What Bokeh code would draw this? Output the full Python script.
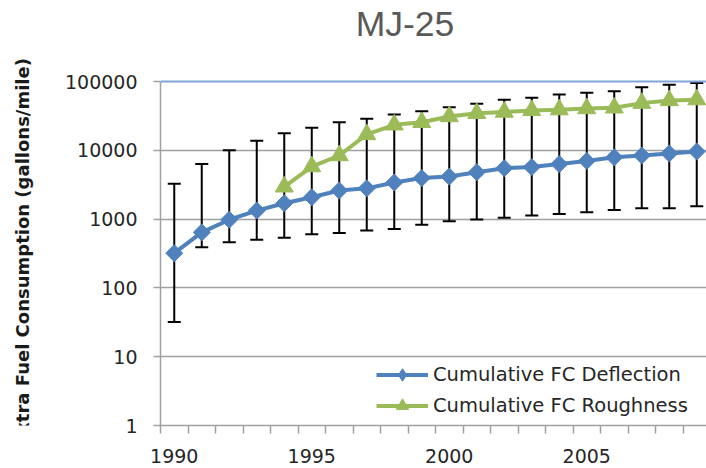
import math
from bokeh.plotting import figure
from bokeh.layouts import row
from bokeh.models import (Range1d, FixedTicker, Span, CustomJSTickFormatter,
                          Legend, LegendItem, Label)
from bokeh.embed import file_html
from bokeh.resources import INLINE

# ---- data ----
years = list(range(1990, 2010))
deflection = [320, 640, 980, 1330, 1700, 2080, 2600, 2800, 3400, 3950,
              4150, 4800, 5500, 5700, 6300, 7000, 7900, 8400, 9000, 9600]
err_lo = [32, 390, 460, 500, 535, 600, 630, 680, 720, 830,
          930, 990, 1050, 1130, 1190, 1260, 1360, 1440, 1440, 1540]
err_hi = [3260, 6340, 10000, 13800, 17700, 21200, 25600, 28700, 33200, 37000,
          42300, 47400, 54200, 58000, 64700, 68400, 72300, 82600, 89500, 95500]
rough_years = list(range(1994, 2010))
roughness = [2950, 5800, 8400, 17000, 23500, 25500, 31000, 34500,
             36000, 38000, 39000, 40500, 41500, 48500, 53000, 54500]
y_ticks = [1, 10, 100, 1000, 10000, 100000]
x_label_ticks = [1990, 1995, 2000, 2005]
title_text = "MJ-25"
y_title = "Extra Fuel Consumption (gallons/mile)"
series_names = ["Cumulative FC Deflection", "Cumulative FC Roughness"]

BLUE = "#4f81bd"
GREEN = "#9bbb59"
GRAY = "#a0a0a0"
TXT = "#262626"

LEFT_W = 46  # strip holding the rotated y-axis title

# ---- y-axis title strip ----
side = figure(width=LEFT_W, height=468, output_backend="svg",
              toolbar_location=None, x_range=Range1d(0, LEFT_W),
              y_range=Range1d(0, 468), x_axis_location=None,
              y_axis_location=None, min_border=0)
side.outline_line_color = None
side.grid.visible = False
side.add_layout(Label(x=22, y=191, text=y_title, angle=math.pi / 2,
                      text_align="center", text_baseline="middle",
                      text_font="DejaVu Sans", text_font_size="18px",
                      text_font_style="bold", text_color="#1a1a1a"))

# ---- main chart: frame spans full height above the x axis ----
DECADE_PX = 344 / 5
y_top = 10 ** (5 + 81 / DECADE_PX)

p = figure(width=706 - LEFT_W, height=468, output_backend="svg",
           toolbar_location=None, y_axis_type="log",
           x_range=Range1d(1989.5, 1989.5 + 546 / 27.5),
           y_range=Range1d(1, y_top),
           min_border_left=160 - LEFT_W, min_border_right=0,
           min_border_top=0, min_border_bottom=43)
p.outline_line_color = None
p.background_fill_color = "white"
p.border_fill_color = "white"

xa = p.xaxis[0]
xa.ticker = FixedTicker(ticks=x_label_ticks,
                        minor_ticks=[1989.5 + k for k in range(21)])
xa.major_tick_out = 0
xa.major_tick_in = 0
xa.minor_tick_out = 8
xa.minor_tick_in = 0
xa.minor_tick_line_color = GRAY
xa.minor_tick_line_width = 1.5
xa.axis_line_color = GRAY
xa.axis_line_width = 1.5
xa.major_label_text_font = "DejaVu Sans"
xa.major_label_text_font_size = "19px"
xa.major_label_text_color = TXT
xa.major_label_standoff = 15

ya = p.yaxis[0]
ya.ticker = FixedTicker(ticks=y_ticks)
ya.bounds = (y_ticks[0], y_ticks[-1])
ya.major_tick_out = 7
ya.major_tick_in = 0
ya.minor_tick_out = 0
ya.minor_tick_in = 0
ya.major_tick_line_color = GRAY
ya.major_tick_line_width = 1.5
ya.axis_line_color = GRAY
ya.axis_line_width = 1.5
ya.major_label_text_font = "DejaVu Sans"
ya.major_label_text_font_size = "19px"
ya.major_label_text_color = TXT
ya.major_label_standoff = 16
ya.formatter = CustomJSTickFormatter(code="return String(Math.round(tick));")

p.xgrid.visible = False
p.ygrid.ticker = FixedTicker(ticks=[10, 100, 1000, 10000])
p.ygrid.grid_line_color = GRAY
p.ygrid.grid_line_width = 1.5

p.add_layout(Span(location=y_ticks[-1], dimension="width",
                  line_color="#7fa6da", line_width=2))

# error bars
p.segment(x0=years, y0=err_lo, x1=years, y1=err_hi,
          line_color="black", line_width=2)
p.scatter(x=years + years, y=err_lo + err_hi, marker="dash", size=13,
          line_color="black", line_width=2)

# series
l1 = p.line(years, deflection, line_color=BLUE, line_width=4)
m1 = p.scatter(years, deflection, marker="diamond", size=15,
               fill_color=BLUE, line_color=BLUE)
p.scatter(years, deflection, marker="square", angle=math.pi / 4, size=12,
          fill_color=BLUE, line_color=BLUE)
l2 = p.line(rough_years, roughness, line_color=GREEN, line_width=4)
m2 = p.scatter(rough_years, roughness, marker="triangle", size=18,
               fill_color=GREEN, line_color=GREEN)

lg = Legend(items=[LegendItem(label=series_names[0], renderers=[l1, m1]),
                   LegendItem(label=series_names[1], renderers=[l2, m2])])
lg.location = (216, 4.5)
lg.border_line_color = None
lg.background_fill_alpha = 0
lg.padding = 0
lg.margin = 0
lg.spacing = 0
lg.glyph_width = 52
lg.glyph_height = 31
lg.label_height = 20
lg.label_standoff = 5
lg.label_text_font = "DejaVu Sans"
lg.label_text_font_size = "19.5px"
lg.label_text_color = TXT
p.add_layout(lg, "center")

p.add_layout(Label(x=244.5, y=401.5, x_units="screen", y_units="screen",
                   text=title_text, text_align="center",
                   text_baseline="alphabetic",
                   text_font="Liberation Sans", text_font_size="35.5px",
                   text_color="#595959"))

layout = row(side, p, spacing=0)
open("out.html", "w").write(file_html(layout, INLINE))
